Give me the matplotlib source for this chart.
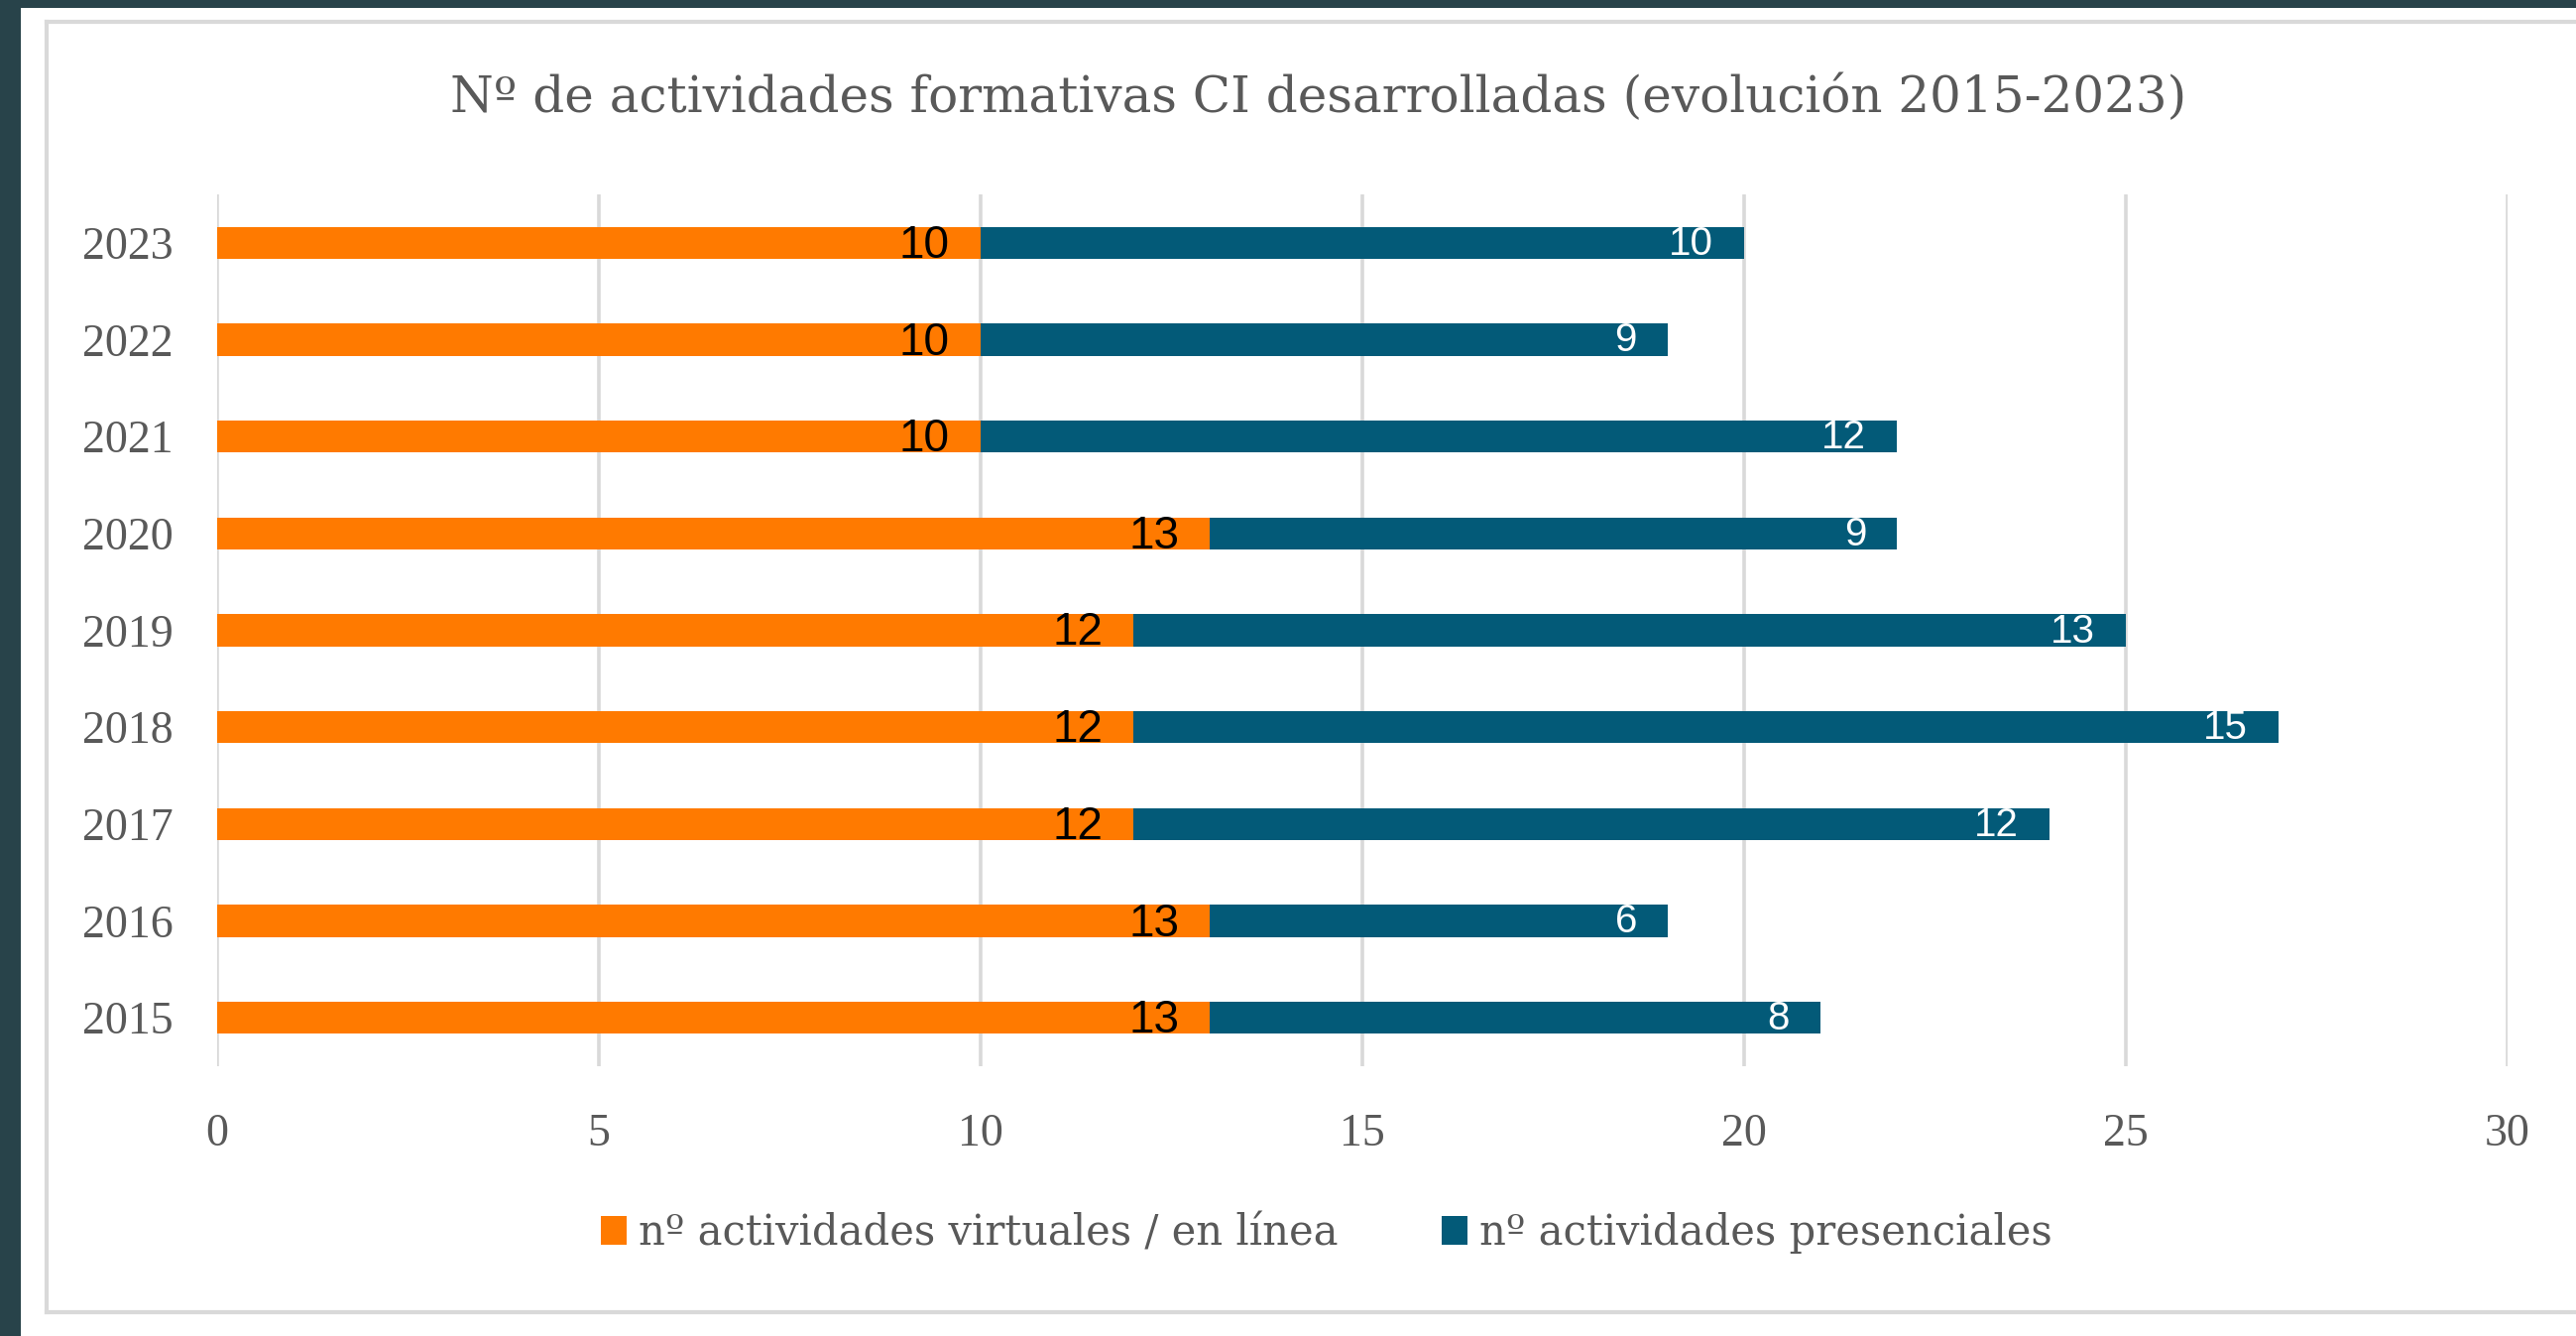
import matplotlib
matplotlib.use("Agg")
import matplotlib.pyplot as plt
from matplotlib.lines import Line2D
from matplotlib.patches import Patch, Rectangle

# data
years = ["2015", "2016", "2017", "2018", "2019", "2020", "2021", "2022", "2023"]
virtual = [13, 13, 12, 12, 12, 13, 10, 10, 10]
presencial = [8, 6, 12, 15, 13, 9, 12, 9, 10]
x_ticks = [0, 5, 10, 15, 20, 25, 30]

TITLE = "Nº de actividades formativas CI desarrolladas (evolución 2015-2023)"
LABEL_VIRTUAL = "nº actividades virtuales / en línea"
LABEL_PRES = "nº actividades presenciales"

ORANGE = "#FF7A00"
BLUE = "#035A78"
TEXT_GRAY = "#595959"
GRID_GRAY = "#D9D9D9"
BAND = "#28434A"

W, H = 2598, 1347
DPI = 100
SERIF = ["Liberation Serif", "DejaVu Serif"]
WIDE_SERIF = ["DejaVu Serif"]
SANS = ["Liberation Sans", "DejaVu Sans"]


def fx(px):
    return px / W


def fy(py):
    return 1 - py / H


def main():
    fig = plt.figure(figsize=(W / DPI, H / DPI), dpi=DPI, facecolor="white")

    # dark band at top and left of the screenshot
    fig.add_artist(Rectangle((0, fy(8)), 1, 8 / H, transform=fig.transFigure,
                             facecolor=BAND, edgecolor="none", zorder=0))
    fig.add_artist(Rectangle((0, 0), fx(21), 1, transform=fig.transFigure,
                             facecolor=BAND, edgecolor="none", zorder=0))

    # light gray chart frame (right edge runs off the picture)
    for xs, ys in [((47, W + 10), (22, 22)), ((47, 47), (22, 1323)), ((47, W + 10), (1323, 1323))]:
        fig.add_artist(Line2D([fx(v) for v in xs], [fy(v) for v in ys],
                              transform=fig.transFigure, color=GRID_GRAY, linewidth=3.0))

    ax = fig.add_axes([fx(219), fy(1075), fx(2529) - fx(219), (1075 - 196) / H])
    ax.set_facecolor("none")

    pos = list(range(len(years)))
    bh = 0.33
    ax.barh(pos, virtual, height=bh, color=ORANGE, label=LABEL_VIRTUAL, zorder=3)
    ax.barh(pos, presencial, left=virtual, height=bh, color=BLUE, label=LABEL_PRES, zorder=3)

    for i in pos:
        ax.annotate(str(virtual[i]), xy=(virtual[i], i), xytext=(-31, -3),
                    textcoords="offset pixels", ha="right", va="center",
                    fontsize=33, family=SANS, color="black", zorder=4)
        end = virtual[i] + presencial[i]
        ax.annotate(str(presencial[i]), xy=(end, i), xytext=(-31, -1),
                    textcoords="offset pixels", ha="right", va="center",
                    fontsize=29, family=SANS, color="white", zorder=4)

    ax.set_xlim(0, 30)
    ax.set_ylim(-0.5, len(years) - 0.5)
    ax.set_xticks(x_ticks)
    ax.set_yticks(pos)
    ax.set_yticklabels(years)
    ax.grid(axis="x", color=GRID_GRAY, linewidth=2.6, zorder=0)
    ax.grid(axis="y", visible=False)
    for s in ax.spines.values():
        s.set_visible(False)
    ax.tick_params(axis="both", length=0, labelsize=33, labelcolor=TEXT_GRAY)
    ax.tick_params(axis="y", pad=32)
    ax.tick_params(axis="x", pad=34)
    for lab in ax.get_xticklabels() + ax.get_yticklabels():
        lab.set_family(SERIF)

    fig.text(fx(1330), fy(99), TITLE, ha="center", va="center",
             fontsize=36, family=WIDE_SERIF, color=TEXT_GRAY)

    handles = [Patch(facecolor=ORANGE), Patch(facecolor=BLUE)]
    fig.legend(handles, [LABEL_VIRTUAL, LABEL_PRES], loc="center",
               bbox_to_anchor=(fx(1338), fy(1243)), ncol=2, frameon=False,
               prop={"family": WIDE_SERIF, "size": 30}, labelcolor=TEXT_GRAY,
               handlelength=0.62, handleheight=0.7, handletextpad=0.3,
               columnspacing=2.5)

    fig.savefig("out.png", dpi=DPI, facecolor="white")
    plt.close(fig)


if __name__ == "__main__":
    main()
